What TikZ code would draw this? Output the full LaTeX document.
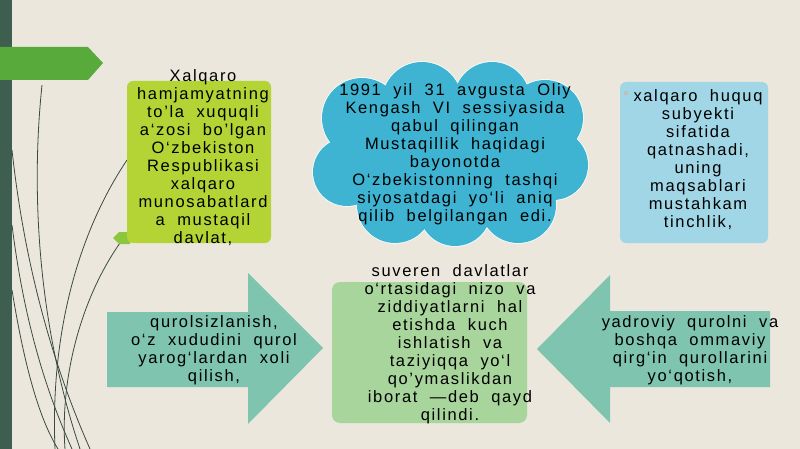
\documentclass[tikz,border=0pt]{standalone}
\usepackage{fontspec}
\setmainfont{Liberation Sans}[LetterSpace=10, WordSpace=2]
\definecolor{bgc}{HTML}{EBE7DC}
\definecolor{barc}{HTML}{3E5F4F}
\definecolor{tabc}{HTML}{58AB3B}
\definecolor{limec}{HTML}{B4D335}
\definecolor{cloudc}{HTML}{3EB4D2}
\definecolor{skyc}{HTML}{A0D6E6}
\definecolor{arrowc}{HTML}{7EC4AE}
\definecolor{mintc}{HTML}{A8D59B}
\definecolor{curvec}{HTML}{3A4A40}
\definecolor{leafc}{HTML}{8CC63F}
\tikzset{
  txt/.style={align=center, text=black, inner sep=0pt, font=\fontsize{16.5}{18}\selectfont},
  curveline/.style={draw=curvec, line width=0.8pt},
}
\begin{document}
\begin{tikzpicture}[x=1pt,y=-1pt]
\useasboundingbox (0,0) rectangle (800,449);
\fill[bgc] (0,0) rectangle (800,449);
% left bar and tab
\fill[barc] (0,0) rectangle (12,449);
\fill[tabc] (0,47) -- (88,47) -- (103,63) -- (88,80) -- (0,80) -- cycle;
% curves
\draw[curveline] (42,85) .. controls (30,200) and (40,330) .. (80,449);
\draw[curveline] (12,150) .. controls (25,270) and (55,370) .. (90,449);
\draw[curveline] (12,225) .. controls (25,330) and (50,400) .. (72,449);
\draw[curveline] (12,290) .. controls (25,370) and (40,420) .. (58,449);
\draw[curveline] (127,160) .. controls (80,230) and (50,330) .. (55,449);
\draw[curveline] (120,243) .. controls (80,300) and (60,380) .. (65,449);
% leaf
\fill[leafc] (113,238) -- (119,232) -- (130,232) -- (130,244) -- (119,244) -- cycle;
% green box
\fill[limec, rounded corners=6pt] (127,81) rectangle (271,243);
% cloud
\begin{scope}
\foreach \cx/\cy/\r in {362/118/40, 422/102/40, 492/100/38, 545/118/38, 553/165/35, 518/205/38, 455/210/36, 395/205/38, 347/172/34}
  \filldraw[fill=cloudc, draw=white, line width=1.5pt] (\cx,\cy) circle (\r);
\foreach \cx/\cy/\r in {362/118/40, 422/102/40, 492/100/38, 545/118/38, 553/165/35, 518/205/38, 455/210/36, 395/205/38, 347/172/34}
  \fill[cloudc] (\cx,\cy) circle (\r);
\fill[cloudc] (450,157) ellipse (108 and 68);
\end{scope}
% blue box
\fill[skyc, rounded corners=6pt] (620,82) rectangle (768,243);
\fill[black!25] (624,91) rectangle (628,95);
% arrows
\fill[arrowc] (107,312) -- (248,312) -- (248,273) -- (323,348) -- (248,424) -- (248,387) -- (107,387) -- cycle;
\fill[arrowc] (770,311) -- (610,311) -- (610,275) -- (537,349) -- (610,423) -- (610,387) -- (770,387) -- cycle;
% center box
\fill[mintc, rounded corners=8pt] (332,282) rectangle (527,423);
% texts
\node[txt] (t1) at (203,158) {Xalqaro\\hamjamyatning\\to'la xuquqli\\a`zosi bo'lgan\\O`zbekiston\\Respublikasi\\xalqaro\\munosabatlard\\a mustaqil\\davlat,};
\node[txt] (t2) at (455,154) {1991 yil 31 avgusta Oliy\\Kengash VI sessiyasida\\qabul qilingan\\Mustaqillik haqidagi\\bayonotda\\O`zbekistonning tashqi\\siyosatdagi yo`li aniq\\qilib belgilangan edi.};
\node[txt] (t3) at (698,160) {xalqaro huquq\\subyekti\\sifatida\\qatnashadi,\\uning\\maqsablari\\mustahkam\\tinchlik,};
\node[txt] (t4) at (214,350) {qurolsizlanish,\\o`z xududini qurol\\yarog`lardan xoli\\qilish,};
\node[txt] (t5) at (450,344) {suveren davlatlar\\o`rtasidagi nizo va\\ziddiyatlarni hal\\etishda kuch\\ishlatish va\\taziyiqqa yo`l\\qo'ymaslikdan\\iborat —deb qayd\\qilindi.};
\node[txt] (t6) at (690,350) {yadroviy qurolni va\\boshqa ommaviy\\qirg`in qurollarini\\yo`qotish,};
\end{tikzpicture}
\end{document}
